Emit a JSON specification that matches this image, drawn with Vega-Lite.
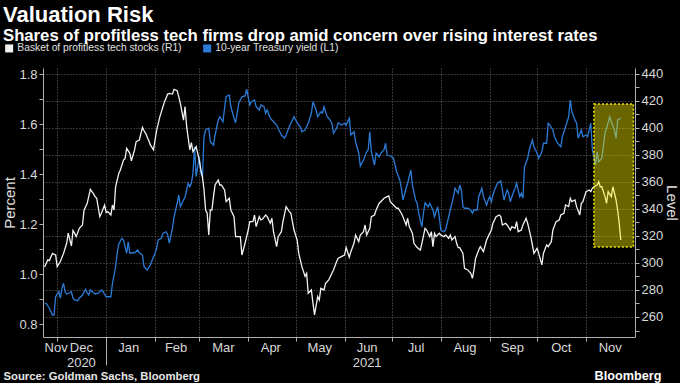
{
  "$schema": "https://vega.github.io/schema/vega-lite/v6.json",
  "width": 592,
  "height": 269,
  "autosize": "none",
  "padding": {"left": 43, "top": 68, "right": 45, "bottom": 46},
  "background": "#000000",
  "title": {
    "text": "Valuation Risk",
    "subtitle": "Shares of profitless tech firms drop amid concern over rising interest rates",
    "anchor": "start",
    "frame": "group",
    "dx": -40,
    "offset": -3,
    "font": "Liberation Sans",
    "fontSize": 22,
    "fontWeight": "bold",
    "color": "#ffffff",
    "subtitleFont": "Liberation Sans",
    "subtitleFontSize": 16.7,
    "subtitleFontWeight": "bold",
    "subtitleColor": "#ffffff",
    "subtitlePadding": 1
  },
  "config": {
    "view": {"stroke": null},
    "axis": {
      "labelFont": "Liberation Sans",
      "labelFontSize": 13,
      "labelColor": "#d8d8d8",
      "tickColor": "#b0b0b0",
      "domainColor": "#b0b0b0",
      "titleFont": "Liberation Sans",
      "titleColor": "#e0e0e0"
    }
  },
  "datasets": {
    "yield": [
      {"date":"2020-11-23","v":0.880},{"date":"2020-11-24","v":0.883},{"date":"2020-11-26","v":0.863},{"date":"2020-11-28","v":0.836},{"date":"2020-11-29","v":0.836},{"date":"2020-11-30","v":0.909},
      {"date":"2020-12-02","v":0.929},{"date":"2020-12-03","v":0.903},{"date":"2020-12-04","v":0.943},{"date":"2020-12-05","v":0.963},{"date":"2020-12-06","v":0.929},{"date":"2020-12-07","v":0.920},{"date":"2020-12-09","v":0.925},{"date":"2020-12-10","v":0.929},{"date":"2020-12-11","v":0.903},{"date":"2020-12-12","v":0.896},{"date":"2020-12-14","v":0.893},{"date":"2020-12-15","v":0.903},{"date":"2020-12-17","v":0.916},{"date":"2020-12-19","v":0.939},{"date":"2020-12-20","v":0.925},{"date":"2020-12-21","v":0.916},{"date":"2020-12-22","v":0.936},{"date":"2020-12-24","v":0.925},{"date":"2020-12-25","v":0.920},{"date":"2020-12-27","v":0.923},{"date":"2020-12-29","v":0.936},{"date":"2020-12-30","v":0.929},
      {"date":"2021-01-01","v":0.909},{"date":"2021-01-02","v":0.909},{"date":"2021-01-04","v":0.909},{"date":"2021-01-05","v":0.963},{"date":"2021-01-07","v":1.029},{"date":"2021-01-08","v":1.083},{"date":"2021-01-09","v":1.120},{"date":"2021-01-11","v":1.143},{"date":"2021-01-12","v":1.136},{"date":"2021-01-14","v":1.083},{"date":"2021-01-15","v":1.129},{"date":"2021-01-16","v":1.083},{"date":"2021-01-18","v":1.085},{"date":"2021-01-19","v":1.085},{"date":"2021-01-21","v":1.096},{"date":"2021-01-22","v":1.085},{"date":"2021-01-24","v":1.076},{"date":"2021-01-25","v":1.029},{"date":"2021-01-26","v":1.023},{"date":"2021-01-27","v":1.016},{"date":"2021-01-29","v":1.036},{"date":"2021-01-31","v":1.069},
      {"date":"2021-02-01","v":1.083},{"date":"2021-02-02","v":1.103},{"date":"2021-02-03","v":1.136},{"date":"2021-02-05","v":1.143},{"date":"2021-02-06","v":1.163},{"date":"2021-02-08","v":1.169},{"date":"2021-02-09","v":1.156},{"date":"2021-02-10","v":1.123},{"date":"2021-02-12","v":1.183},{"date":"2021-02-13","v":1.229},{"date":"2021-02-15","v":1.283},{"date":"2021-02-16","v":1.316},{"date":"2021-02-17","v":1.269},{"date":"2021-02-18","v":1.283},{"date":"2021-02-20","v":1.309},{"date":"2021-02-21","v":1.336},{"date":"2021-02-22","v":1.363},{"date":"2021-02-23","v":1.349},{"date":"2021-02-24","v":1.363},{"date":"2021-02-25","v":1.403},{"date":"2021-02-26","v":1.509},{"date":"2021-02-27","v":1.389},
      {"date":"2021-03-01","v":1.469},{"date":"2021-03-02","v":1.403},{"date":"2021-03-03","v":1.389},{"date":"2021-03-04","v":1.549},{"date":"2021-03-05","v":1.576},{"date":"2021-03-07","v":1.583},{"date":"2021-03-08","v":1.529},{"date":"2021-03-10","v":1.516},{"date":"2021-03-11","v":1.556},{"date":"2021-03-13","v":1.616},{"date":"2021-03-14","v":1.629},{"date":"2021-03-16","v":1.609},{"date":"2021-03-17","v":1.663},{"date":"2021-03-18","v":1.709},{"date":"2021-03-20","v":1.716},{"date":"2021-03-21","v":1.669},{"date":"2021-03-23","v":1.623},{"date":"2021-03-24","v":1.605},{"date":"2021-03-25","v":1.643},{"date":"2021-03-26","v":1.683},{"date":"2021-03-28","v":1.709},{"date":"2021-03-30","v":1.712},{"date":"2021-03-31","v":1.739},
      {"date":"2021-04-02","v":1.676},{"date":"2021-04-03","v":1.689},{"date":"2021-04-05","v":1.696},{"date":"2021-04-06","v":1.669},{"date":"2021-04-08","v":1.656},{"date":"2021-04-09","v":1.676},{"date":"2021-04-11","v":1.669},{"date":"2021-04-12","v":1.643},{"date":"2021-04-13","v":1.656},{"date":"2021-04-15","v":1.623},{"date":"2021-04-16","v":1.616},{"date":"2021-04-18","v":1.603},{"date":"2021-04-19","v":1.596},{"date":"2021-04-21","v":1.569},{"date":"2021-04-22","v":1.556},{"date":"2021-04-24","v":1.543},{"date":"2021-04-25","v":1.556},{"date":"2021-04-27","v":1.589},{"date":"2021-04-29","v":1.616},{"date":"2021-04-30","v":1.629},
      {"date":"2021-05-01","v":1.616},{"date":"2021-05-03","v":1.596},{"date":"2021-05-04","v":1.589},{"date":"2021-05-05","v":1.569},{"date":"2021-05-07","v":1.576},{"date":"2021-05-09","v":1.603},{"date":"2021-05-11","v":1.643},{"date":"2021-05-12","v":1.689},{"date":"2021-05-14","v":1.656},{"date":"2021-05-15","v":1.629},{"date":"2021-05-17","v":1.649},{"date":"2021-05-18","v":1.643},{"date":"2021-05-19","v":1.669},{"date":"2021-05-21","v":1.629},{"date":"2021-05-22","v":1.623},{"date":"2021-05-24","v":1.603},{"date":"2021-05-25","v":1.563},{"date":"2021-05-27","v":1.583},{"date":"2021-05-28","v":1.605},{"date":"2021-05-30","v":1.596},
      {"date":"2021-06-01","v":1.603},{"date":"2021-06-02","v":1.596},{"date":"2021-06-04","v":1.623},{"date":"2021-06-05","v":1.556},{"date":"2021-06-07","v":1.569},{"date":"2021-06-08","v":1.529},{"date":"2021-06-10","v":1.483},{"date":"2021-06-11","v":1.432},{"date":"2021-06-13","v":1.456},{"date":"2021-06-15","v":1.489},{"date":"2021-06-16","v":1.496},{"date":"2021-06-17","v":1.569},{"date":"2021-06-18","v":1.489},{"date":"2021-06-20","v":1.436},{"date":"2021-06-21","v":1.483},{"date":"2021-06-23","v":1.469},{"date":"2021-06-24","v":1.483},{"date":"2021-06-26","v":1.496},{"date":"2021-06-27","v":1.523},{"date":"2021-06-28","v":1.476},{"date":"2021-06-30","v":1.472},
      {"date":"2021-07-02","v":1.463},{"date":"2021-07-03","v":1.436},{"date":"2021-07-04","v":1.409},{"date":"2021-07-06","v":1.376},{"date":"2021-07-07","v":1.343},{"date":"2021-07-08","v":1.296},{"date":"2021-07-10","v":1.343},{"date":"2021-07-11","v":1.363},{"date":"2021-07-13","v":1.416},{"date":"2021-07-14","v":1.356},{"date":"2021-07-16","v":1.296},{"date":"2021-07-17","v":1.283},{"date":"2021-07-18","v":1.243},{"date":"2021-07-20","v":1.189},{"date":"2021-07-21","v":1.243},{"date":"2021-07-22","v":1.285},{"date":"2021-07-24","v":1.269},{"date":"2021-07-25","v":1.283},{"date":"2021-07-27","v":1.256},{"date":"2021-07-28","v":1.229},{"date":"2021-07-30","v":1.269},{"date":"2021-07-31","v":1.229},
      {"date":"2021-08-01","v":1.176},{"date":"2021-08-03","v":1.169},{"date":"2021-08-04","v":1.176},{"date":"2021-08-05","v":1.203},{"date":"2021-08-07","v":1.256},{"date":"2021-08-09","v":1.309},{"date":"2021-08-10","v":1.343},{"date":"2021-08-12","v":1.323},{"date":"2021-08-13","v":1.356},{"date":"2021-08-14","v":1.336},{"date":"2021-08-15","v":1.269},{"date":"2021-08-16","v":1.263},{"date":"2021-08-18","v":1.263},{"date":"2021-08-20","v":1.256},{"date":"2021-08-21","v":1.243},{"date":"2021-08-22","v":1.256},{"date":"2021-08-24","v":1.256},{"date":"2021-08-25","v":1.309},{"date":"2021-08-27","v":1.343},{"date":"2021-08-28","v":1.309},{"date":"2021-08-30","v":1.276},{"date":"2021-08-31","v":1.296},
      {"date":"2021-09-01","v":1.309},{"date":"2021-09-02","v":1.289},{"date":"2021-09-03","v":1.316},{"date":"2021-09-04","v":1.336},{"date":"2021-09-06","v":1.363},{"date":"2021-09-08","v":1.372},{"date":"2021-09-09","v":1.336},{"date":"2021-09-10","v":1.296},{"date":"2021-09-12","v":1.336},{"date":"2021-09-13","v":1.323},{"date":"2021-09-14","v":1.289},{"date":"2021-09-15","v":1.309},{"date":"2021-09-17","v":1.343},{"date":"2021-09-18","v":1.363},{"date":"2021-09-20","v":1.309},{"date":"2021-09-21","v":1.323},{"date":"2021-09-22","v":1.303},{"date":"2021-09-23","v":1.429},{"date":"2021-09-25","v":1.463},{"date":"2021-09-26","v":1.496},{"date":"2021-09-28","v":1.536},{"date":"2021-09-29","v":1.509},
      {"date":"2021-10-01","v":1.483},{"date":"2021-10-02","v":1.463},{"date":"2021-10-04","v":1.489},{"date":"2021-10-05","v":1.523},{"date":"2021-10-07","v":1.523},{"date":"2021-10-08","v":1.603},{"date":"2021-10-09","v":1.596},{"date":"2021-10-11","v":1.576},{"date":"2021-10-12","v":1.549},{"date":"2021-10-14","v":1.523},{"date":"2021-10-16","v":1.509},{"date":"2021-10-17","v":1.549},{"date":"2021-10-19","v":1.589},{"date":"2021-10-21","v":1.629},{"date":"2021-10-22","v":1.696},{"date":"2021-10-23","v":1.649},{"date":"2021-10-25","v":1.616},{"date":"2021-10-26","v":1.603},{"date":"2021-10-27","v":1.543},{"date":"2021-10-29","v":1.576},{"date":"2021-10-30","v":1.549},
      {"date":"2021-11-01","v":1.556},{"date":"2021-11-02","v":1.549},{"date":"2021-11-04","v":1.603},{"date":"2021-11-05","v":1.496},{"date":"2021-11-06","v":1.469},{"date":"2021-11-07","v":1.436},{"date":"2021-11-08","v":1.489},{"date":"2021-11-09","v":1.449},{"date":"2021-11-11","v":1.463},{"date":"2021-11-13","v":1.563},{"date":"2021-11-14","v":1.583},{"date":"2021-11-16","v":1.629},{"date":"2021-11-17","v":1.609},{"date":"2021-11-19","v":1.576},{"date":"2021-11-20","v":1.543},{"date":"2021-11-21","v":1.616},{"date":"2021-11-23","v":1.623}
    ],
    "basket": [
      {"date":"2020-11-23","v":297},{"date":"2020-11-25","v":302.2},{"date":"2020-11-26","v":301.7},{"date":"2020-11-28","v":307},{"date":"2020-11-30","v":305.8},
      {"date":"2020-12-01","v":297.2},{"date":"2020-12-03","v":301},{"date":"2020-12-05","v":307},{"date":"2020-12-07","v":314.5},{"date":"2020-12-08","v":322},{"date":"2020-12-10","v":312.5},{"date":"2020-12-11","v":324},{"date":"2020-12-12","v":322},{"date":"2020-12-13","v":319.4},{"date":"2020-12-15","v":325.6},{"date":"2020-12-17","v":328},{"date":"2020-12-18","v":339},{"date":"2020-12-20","v":344},{"date":"2020-12-22","v":354.4},{"date":"2020-12-24","v":351},{"date":"2020-12-25","v":349},{"date":"2020-12-26","v":347.8},{"date":"2020-12-28","v":334.2},{"date":"2020-12-29","v":336.7},{"date":"2020-12-31","v":342.8},
      {"date":"2021-01-01","v":337.2},{"date":"2021-01-02","v":337.9},{"date":"2021-01-04","v":335.4},{"date":"2021-01-05","v":342.8},{"date":"2021-01-06","v":339.1},{"date":"2021-01-07","v":356.3},{"date":"2021-01-09","v":366.2},{"date":"2021-01-10","v":368.7},{"date":"2021-01-12","v":376},{"date":"2021-01-13","v":377.3},{"date":"2021-01-14","v":384.7},{"date":"2021-01-16","v":381},{"date":"2021-01-17","v":375.5},{"date":"2021-01-19","v":383.5},{"date":"2021-01-20","v":389.6},{"date":"2021-01-22","v":390.9},{"date":"2021-01-24","v":400.2},{"date":"2021-01-25","v":397.7},{"date":"2021-01-26","v":395.8},{"date":"2021-01-28","v":390.4},{"date":"2021-01-29","v":387.2},{"date":"2021-01-31","v":383.5},
      {"date":"2021-02-01","v":390.9},{"date":"2021-02-02","v":398.2},{"date":"2021-02-04","v":408},{"date":"2021-02-06","v":415.5},{"date":"2021-02-07","v":419.2},{"date":"2021-02-09","v":424.8},{"date":"2021-02-10","v":425.3},{"date":"2021-02-12","v":424.8},{"date":"2021-02-13","v":428.3},{"date":"2021-02-15","v":427.3},{"date":"2021-02-16","v":422.9},{"date":"2021-02-17","v":418},{"date":"2021-02-19","v":405.6},{"date":"2021-02-20","v":415.5},{"date":"2021-02-21","v":400.7},{"date":"2021-02-23","v":383.5},{"date":"2021-02-24","v":388.9},{"date":"2021-02-25","v":382.2},{"date":"2021-02-27","v":385.9},
      {"date":"2021-03-01","v":376},{"date":"2021-03-02","v":368.7},{"date":"2021-03-03","v":363.7},{"date":"2021-03-04","v":353.9},{"date":"2021-03-05","v":339.1},{"date":"2021-03-06","v":336.7},{"date":"2021-03-07","v":320.6},{"date":"2021-03-08","v":339.1},{"date":"2021-03-09","v":339.1},{"date":"2021-03-10","v":349},{"date":"2021-03-11","v":357.6},{"date":"2021-03-13","v":361.3},{"date":"2021-03-14","v":357.6},{"date":"2021-03-15","v":357.6},{"date":"2021-03-17","v":353.9},{"date":"2021-03-18","v":345.3},{"date":"2021-03-20","v":347.8},{"date":"2021-03-21","v":339.1},{"date":"2021-03-23","v":334.2},{"date":"2021-03-24","v":319.4},{"date":"2021-03-25","v":319.4},{"date":"2021-03-27","v":319.4},{"date":"2021-03-28","v":305.8},{"date":"2021-03-30","v":314.5},
      {"date":"2021-04-01","v":324.3},{"date":"2021-04-02","v":330.5},{"date":"2021-04-04","v":330.5},{"date":"2021-04-05","v":335.4},{"date":"2021-04-06","v":326.8},{"date":"2021-04-08","v":334.2},{"date":"2021-04-09","v":331.7},{"date":"2021-04-10","v":332.2},{"date":"2021-04-12","v":335.4},{"date":"2021-04-13","v":334.2},{"date":"2021-04-15","v":329.3},{"date":"2021-04-16","v":333},{"date":"2021-04-17","v":323.1},{"date":"2021-04-19","v":312},{"date":"2021-04-20","v":319.4},{"date":"2021-04-22","v":323.1},{"date":"2021-04-23","v":330.5},{"date":"2021-04-25","v":341.6},{"date":"2021-04-27","v":337.9},{"date":"2021-04-28","v":336.7},{"date":"2021-04-30","v":324.3},
      {"date":"2021-05-02","v":316.9},{"date":"2021-05-03","v":307},{"date":"2021-05-05","v":297.2},{"date":"2021-05-07","v":290},{"date":"2021-05-08","v":292.3},{"date":"2021-05-09","v":277.5},{"date":"2021-05-11","v":280},{"date":"2021-05-12","v":270.2},{"date":"2021-05-13","v":261.5},{"date":"2021-05-15","v":275},{"date":"2021-05-16","v":272.6},{"date":"2021-05-17","v":281.2},{"date":"2021-05-19","v":280},{"date":"2021-05-20","v":284.9},{"date":"2021-05-22","v":287.4},{"date":"2021-05-24","v":292.3},{"date":"2021-05-25","v":294.8},{"date":"2021-05-27","v":301},{"date":"2021-05-28","v":303.4},{"date":"2021-05-30","v":304.6},
      {"date":"2021-06-01","v":305.8},{"date":"2021-06-02","v":311.3},{"date":"2021-06-04","v":304.2},{"date":"2021-06-05","v":308.3},{"date":"2021-06-07","v":314.5},{"date":"2021-06-08","v":320.6},{"date":"2021-06-10","v":315.7},{"date":"2021-06-11","v":320.6},{"date":"2021-06-13","v":323.1},{"date":"2021-06-14","v":328},{"date":"2021-06-15","v":320.6},{"date":"2021-06-17","v":325.6},{"date":"2021-06-18","v":334.2},{"date":"2021-06-20","v":335.4},{"date":"2021-06-21","v":339.1},{"date":"2021-06-23","v":344.1},{"date":"2021-06-25","v":346.5},{"date":"2021-06-26","v":347.8},{"date":"2021-06-28","v":349},{"date":"2021-06-29","v":349.5},{"date":"2021-06-30","v":345.3},
      {"date":"2021-07-02","v":342.8},{"date":"2021-07-04","v":340.4},{"date":"2021-07-05","v":340.4},{"date":"2021-07-07","v":336.7},{"date":"2021-07-08","v":334.2},{"date":"2021-07-10","v":328},{"date":"2021-07-11","v":333},{"date":"2021-07-12","v":326.8},{"date":"2021-07-14","v":321.9},{"date":"2021-07-15","v":314.5},{"date":"2021-07-17","v":311.3},{"date":"2021-07-19","v":309.5},{"date":"2021-07-20","v":314.5},{"date":"2021-07-22","v":325.6},{"date":"2021-07-23","v":324.3},{"date":"2021-07-25","v":319.4},{"date":"2021-07-26","v":323.1},{"date":"2021-07-27","v":312},{"date":"2021-07-28","v":321.9},{"date":"2021-07-29","v":319.4},{"date":"2021-07-31","v":321.9},
      {"date":"2021-08-01","v":320.6},{"date":"2021-08-03","v":319.4},{"date":"2021-08-04","v":320.6},{"date":"2021-08-06","v":318.2},{"date":"2021-08-07","v":320.6},{"date":"2021-08-08","v":316.9},{"date":"2021-08-10","v":319.4},{"date":"2021-08-11","v":314.5},{"date":"2021-08-12","v":311.3},{"date":"2021-08-13","v":311.3},{"date":"2021-08-15","v":307},{"date":"2021-08-16","v":296},{"date":"2021-08-18","v":294.8},{"date":"2021-08-20","v":292.3},{"date":"2021-08-21","v":288.6},{"date":"2021-08-22","v":294.8},{"date":"2021-08-23","v":303.4},{"date":"2021-08-25","v":309.5},{"date":"2021-08-26","v":312},{"date":"2021-08-28","v":308.3},{"date":"2021-08-30","v":316.9},{"date":"2021-08-31","v":319.4},
      {"date":"2021-09-02","v":324.3},{"date":"2021-09-03","v":329.3},{"date":"2021-09-05","v":334.2},{"date":"2021-09-07","v":335.4},{"date":"2021-09-08","v":334.2},{"date":"2021-09-09","v":328},{"date":"2021-09-11","v":329.3},{"date":"2021-09-12","v":328},{"date":"2021-09-14","v":324.3},{"date":"2021-09-15","v":326.8},{"date":"2021-09-17","v":325.6},{"date":"2021-09-18","v":330.5},{"date":"2021-09-19","v":323.1},{"date":"2021-09-21","v":324.3},{"date":"2021-09-22","v":328},{"date":"2021-09-24","v":333},{"date":"2021-09-25","v":329.3},{"date":"2021-09-27","v":319.4},{"date":"2021-09-29","v":307},
      {"date":"2021-10-01","v":310.8},{"date":"2021-10-02","v":307},{"date":"2021-10-04","v":298.5},{"date":"2021-10-05","v":307},{"date":"2021-10-07","v":313.3},{"date":"2021-10-08","v":312},{"date":"2021-10-10","v":315.7},{"date":"2021-10-11","v":324.3},{"date":"2021-10-13","v":330.5},{"date":"2021-10-15","v":331.7},{"date":"2021-10-16","v":335.4},{"date":"2021-10-18","v":336.7},{"date":"2021-10-19","v":342.8},{"date":"2021-10-21","v":341.6},{"date":"2021-10-22","v":347.8},{"date":"2021-10-23","v":345.3},{"date":"2021-10-25","v":346.5},{"date":"2021-10-26","v":341.6},{"date":"2021-10-28","v":335.4},{"date":"2021-10-29","v":344.1},{"date":"2021-10-30","v":345.3},{"date":"2021-10-31","v":349},
      {"date":"2021-11-01","v":352.7},{"date":"2021-11-03","v":353.9},{"date":"2021-11-04","v":352.7},{"date":"2021-11-05","v":355.2},{"date":"2021-11-06","v":356.3},{"date":"2021-11-08","v":357.6},{"date":"2021-11-09","v":360},{"date":"2021-11-10","v":356.3},{"date":"2021-11-11","v":356.3},{"date":"2021-11-13","v":349},{"date":"2021-11-14","v":344.1},{"date":"2021-11-15","v":352.7},{"date":"2021-11-17","v":349},{"date":"2021-11-18","v":356.3},{"date":"2021-11-20","v":346.5},{"date":"2021-11-21","v":339.1},{"date":"2021-11-22","v":329.3},{"date":"2021-11-23","v":316.9}
    ],
    "box": [
      {"start":"2021-11-06","end":"2021-12-01","lo":311.8,"hi":417.5}
    ]
  },
  "resolve": {
    "scale": {"y": "independent"},
    "axis": {"x": "independent", "y": "independent"}
  },
  "layer": [
    {
      "data": {"name": "yield"},
      "mark": {"type": "line", "strokeWidth": 1.3},
      "encoding": {
        "x": {
          "field": "date", "type": "temporal",
          "scale": {"type": "utc", "nice": false, "domain": [{"year": 2020, "month": 11, "date": 22, "utc": true}, {"year": 2021, "month": 12, "date": 2, "utc": true}]},
          "axis": {
            "orient": "bottom",
            "values": [
              {"year": 2020, "month": 12, "date": 1, "utc": true},
              {"year": 2021, "month": 1, "date": 1, "utc": true},
              {"year": 2021, "month": 2, "date": 1, "utc": true},
              {"year": 2021, "month": 3, "date": 1, "utc": true},
              {"year": 2021, "month": 4, "date": 1, "utc": true},
              {"year": 2021, "month": 5, "date": 1, "utc": true},
              {"year": 2021, "month": 6, "date": 1, "utc": true},
              {"year": 2021, "month": 7, "date": 1, "utc": true},
              {"year": 2021, "month": 8, "date": 1, "utc": true},
              {"year": 2021, "month": 9, "date": 1, "utc": true},
              {"year": 2021, "month": 10, "date": 1, "utc": true},
              {"year": 2021, "month": 11, "date": 1, "utc": true}
            ],
            "labels": false,
            "tickSize": {"condition": {"test": "utcmonth(datum.value) == 0", "value": 28}, "value": 4},
            "grid": true,
            "gridDash": [1, 2],
            "gridColor": "#6a6a6a",
            "gridWidth": 1,
            "title": "Source: Goldman Sachs, Bloomberg",
            "titleFontWeight": "bold",
            "titleFontSize": 11.3,
            "titleColor": "#e6e6e6",
            "titleAnchor": "start",
            "titleAlign": "left",
            "titleBaseline": "top",
            "titleX": -40,
            "titleY": 33
          }
        },
        "y": {
          "field": "v", "type": "quantitative",
          "scale": {"domain": [0.748, 1.824], "nice": false, "zero": false},
          "axis": {
            "orient": "left",
            "values": [0.8, 0.9, 1.0, 1.1, 1.2, 1.3, 1.4, 1.5, 1.6, 1.7, 1.8],
            "labelExpr": "round(datum.value * 10) % 2 == 0 ? format(datum.value, '.1f') : ''",
            "tickSize": 4,
            "labelPadding": 2,
            "grid": false,
            "title": "Percent",
            "titleFontSize": 15,
            "titleFontWeight": "normal",
            "titlePadding": 1
          }
        },
        "color": {
          "datum": "10-year Treasury yield (L1)", "type": "nominal",
          "scale": {"domain": ["Basket of profitless tech stocks  (R1)", "10-year Treasury yield (L1)"], "range": ["#f2f2f2", "#2b7bd6"]},
          "legend": {
            "orient": "none", "legendX": -39, "legendY": -25, "direction": "horizontal", "title": null,
            "symbolType": "square", "symbolSize": 64, "symbolStrokeWidth": 0,
            "labelFont": "Liberation Sans", "labelFontSize": 10.3, "labelColor": "#e0e0e0", "labelLimit": 400,
            "labelOffset": 3, "columnPadding": 17,
            "encode": {"symbols": {"update": {"fill": {"scale": "color", "field": "value"}, "fillOpacity": {"value": 1}}}}
          }
        }
      }
    },
    {
      "data": {"name": "basket"},
      "mark": {"type": "line", "strokeWidth": 1.3},
      "encoding": {
        "x": {
          "field": "date", "type": "temporal",
          "axis": {
            "orient": "bottom",
            "values": [
              {"year": 2020, "month": 11, "date": 30, "utc": true},
              {"year": 2020, "month": 12, "date": 16, "utc": true},
              {"year": 2021, "month": 1, "date": 15, "utc": true},
              {"year": 2021, "month": 2, "date": 14, "utc": true},
              {"year": 2021, "month": 3, "date": 16, "utc": true},
              {"year": 2021, "month": 4, "date": 15, "utc": true},
              {"year": 2021, "month": 5, "date": 16, "utc": true},
              {"year": 2021, "month": 6, "date": 15, "utc": true},
              {"year": 2021, "month": 7, "date": 16, "utc": true},
              {"year": 2021, "month": 8, "date": 16, "utc": true},
              {"year": 2021, "month": 9, "date": 15, "utc": true},
              {"year": 2021, "month": 10, "date": 16, "utc": true},
              {"year": 2021, "month": 11, "date": 16, "utc": true}
            ],
            "labelExpr": "utcyear(datum.value) == 2020 && utcmonth(datum.value) == 11 ? ['Dec', '2020'] : (utcmonth(datum.value) == 5 ? ['Jun', '2021'] : utcFormat(datum.value, '%b'))",
            "labelLineHeight": 15,
            "labelBaseline": "top",
            "labelPadding": 4,
            "labelOverlap": false,
            "ticks": false,
            "domain": false,
            "grid": false,
            "title": "Bloomberg",
            "titleFontWeight": "bold",
            "titleFontSize": 12.7,
            "titleColor": "#ffffff",
            "titleAnchor": "end",
            "titleAlign": "right",
            "titleBaseline": "top",
            "titleX": 618,
            "titleY": 32
          }
        },
        "y": {
          "field": "v", "type": "quantitative",
          "scale": {"domain": [245.2, 444.1], "nice": false, "zero": false},
          "axis": {
            "orient": "right",
            "values": [250, 260, 270, 280, 290, 300, 310, 320, 330, 340, 350, 360, 370, 380, 390, 400, 410, 420, 430, 440],
            "labelExpr": "datum.value % 20 == 0 ? datum.label : ''",
            "tickSize": 4,
            "labelPadding": 2,
            "grid": true,
            "gridDash": [1, 2],
            "gridColor": "#6a6a6a",
            "gridOpacity": {"condition": {"test": "datum.value % 20 == 0", "value": 1}, "value": 0},
            "title": "Level",
            "titleFontSize": 15,
            "titleFontWeight": "normal",
            "titlePadding": 1
          }
        },
        "color": {
          "datum": "Basket of profitless tech stocks  (R1)", "type": "nominal",
          "legend": {
            "orient": "none", "legendX": -39, "legendY": -25, "direction": "horizontal", "title": null,
            "symbolType": "square", "symbolSize": 64, "symbolStrokeWidth": 0,
            "labelFont": "Liberation Sans", "labelFontSize": 10.3, "labelColor": "#e0e0e0", "labelLimit": 400,
            "labelOffset": 3, "columnPadding": 17,
            "encode": {"symbols": {"update": {"fill": {"scale": "color", "field": "value"}, "fillOpacity": {"value": 1}}}}
          }
        }
      }
    },
    {
      "data": {"name": "box"},
      "mark": {"type": "rect", "fill": "#fff000", "fillOpacity": 0.42, "stroke": "#f5e600", "strokeWidth": 1.5, "strokeDash": [2, 2], "strokeOpacity": 1},
      "encoding": {
        "x": {"field": "start", "type": "temporal", "axis": null},
        "x2": {"field": "end"},
        "y": {"field": "lo", "type": "quantitative", "scale": {"domain": [245.2, 444.1], "nice": false, "zero": false}, "axis": null},
        "y2": {"field": "hi"}
      }
    }
  ]
}
